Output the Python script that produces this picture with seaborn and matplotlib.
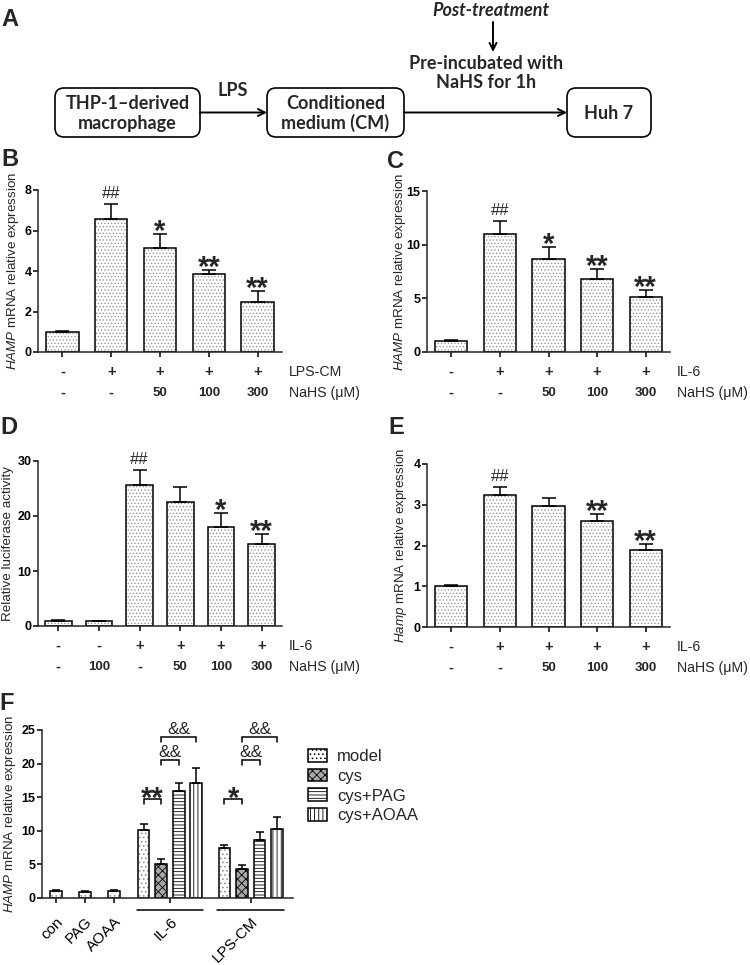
import numpy as np
import pandas as pd
import matplotlib
matplotlib.use('Agg')
import matplotlib.pyplot as plt
import matplotlib.transforms as mtransforms
from matplotlib.patches import FancyBboxPatch, Rectangle, Patch
import seaborn as sns

sns.set_style('ticks')
plt.rcParams['font.family'] = ['Liberation Sans', 'DejaVu Sans']
plt.rcParams['mathtext.fontset'] = 'custom'
plt.rcParams['mathtext.it'] = 'Liberation Sans:italic'
plt.rcParams['mathtext.rm'] = 'Liberation Sans'
plt.rcParams['hatch.linewidth'] = 0.6
plt.rcParams['axes.linewidth'] = 1.1

# ---- data ----
# B: HAMP mRNA, LPS-CM + NaHS
b_row1 = ['-', '+', '+', '+', '+']
b_row2 = ['-', '-', '50', '100', '300']
b_mean = [1.0, 6.57, 5.15, 3.85, 2.48]
b_sem = [0.04, 0.72, 0.68, 0.21, 0.53]
b_marks = ['', '##', '*', '**', '**']

# C: HAMP mRNA, IL-6 + NaHS
c_row1 = ['-', '+', '+', '+', '+']
c_row2 = ['-', '-', '50', '100', '300']
c_mean = [1.0, 11.0, 8.67, 6.77, 5.15]
c_sem = [0.15, 1.2, 1.12, 0.93, 0.6]
c_marks = ['', '##', '*', '**', '**']

# D: luciferase activity
d_row1 = ['-', '-', '+', '+', '+', '+']
d_row2 = ['-', '100', '-', '50', '100', '300']
d_mean = [1.0, 0.85, 25.6, 22.6, 18.0, 15.0]
d_sem = [0.1, 0.05, 2.8, 2.6, 2.5, 1.7]
d_marks = ['', '', '##', '', '*', '**']

# E: Hamp mRNA (mouse)
e_row1 = ['-', '+', '+', '+', '+']
e_row2 = ['-', '-', '50', '100', '300']
e_mean = [1.0, 3.24, 2.98, 2.6, 1.9]
e_sem = [0.02, 0.19, 0.18, 0.17, 0.13]
e_marks = ['', '##', '', '**', '**']

# F: grouped
f_single = ['con', 'PAG', 'AOAA']
f_single_mean = [1.04, 0.95, 1.1]
f_single_sem = [0.2, 0.1, 0.08]
f_groups = ['IL-6', 'LPS-CM']
f_series = ['model', 'cys', 'cys+PAG', 'cys+AOAA']
f_group_mean = [[10.1, 5.03, 15.9, 17.07], [7.37, 4.28, 8.7, 10.3]]
f_group_sem = [[0.9, 0.77, 1.2, 2.33], [0.5, 0.7, 1.06, 1.7]]
f_hatches = ['....', 'xxxx', '-----', '||||']
f_faces = ['white', '#a8a8a8', 'white', 'white']
# comparisons inside each group: (series i, series j, bracket height, label)
f_brackets = [[(0, 1, 14.7, '**'), (1, 2, 20.5, '&&'), (1, 3, 23.9, '&&')],
              [(0, 1, 14.7, '*'), (1, 2, 20.5, '&&'), (1, 3, 23.9, '&&')]]

W, H = 750, 965
fig = plt.figure(figsize=(7.5, 9.65), dpi=100)


def px_axes(left, top, right, bottom):
    return fig.add_axes([left / W, 1 - bottom / H, (right - left) / W, (bottom - top) / H])


def style_axis(ax):
    sns.despine(ax=ax)
    ax.tick_params(axis='both', direction='out', length=3.6, width=1.1,
                   labelsize=9, pad=1, colors='black')
    for lbl in ax.get_yticklabels():
        lbl.set_fontweight('bold')


def offset(ax, dy_pt):
    return mtransforms.offset_copy(ax.transData, fig=fig, x=0, y=dy_pt, units='points')


def draw_marks(ax, tops, marks):
    for i, (top, mk) in enumerate(zip(tops, marks)):
        if not mk:
            continue
        if mk.startswith('#'):
            ax.text(i, top, mk, ha='center', va='baseline', fontsize=12,
                    transform=offset(ax, 4.3), clip_on=False)
        else:
            ax.text(i, top, mk, ha='center', va='baseline', fontsize=21,
                    fontweight='bold', transform=offset(ax, -4.3), clip_on=False)


def bar_panel(ax, mean, sem, marks, ymax, ystep, row1, row2, name1, name2):
    n = len(mean)
    df = pd.DataFrame({'group': [str(i) for i in range(n)], 'value': mean})
    sns.barplot(data=df, x='group', y='value', color='white', saturation=1,
                width=0.66, errorbar=None, ax=ax)
    for bar in list(ax.patches):
        bar.set_hatch('.....')
        bar.set_edgecolor('#9a9a9a')
        bar.set_linewidth(0)
        ax.add_patch(Rectangle(bar.get_xy(), bar.get_width(), bar.get_height(),
                               fill=False, edgecolor='black', linewidth=1.1, zorder=2.5))
    ax.errorbar(range(n), mean, yerr=[np.zeros(n), sem], fmt='none', ecolor='black',
                elinewidth=1.1, capsize=5, capthick=1.1, zorder=3)
    draw_marks(ax, np.array(mean) + np.array(sem), marks)
    ax.set_xlim(-0.5, n - 0.5)
    ax.set_ylim(0, ymax)
    ax.set_yticks(np.arange(0, ymax + 0.01, ystep))
    ax.set_xticks(range(n))
    ax.set_xticklabels([])
    ax.set_xlabel('')
    ax.set_ylabel('')
    style_axis(ax)
    # treatment rows under the axis
    for k, (row, name) in enumerate([(row1, name1), (row2, name2)]):
        dy = -(20 + 21 * k) * 0.72
        tr = mtransforms.offset_copy(mtransforms.blended_transform_factory(ax.transData, ax.transAxes),
                                     fig=fig, x=0, y=dy, units='points')
        for i, lab in enumerate(row):
            ax.text(i, 0, lab, transform=tr, ha='center', va='center',
                    fontsize=10.5 if lab in '+-' else 9.5, fontweight='bold')
        tr2 = mtransforms.offset_copy(ax.transAxes, fig=fig, x=5, y=dy, units='points')
        ax.text(1, 0, name, transform=tr2, ha='left', va='center', fontsize=10.2)
    return ax


def ylabel_at(x, ax, text):
    bb = ax.get_position()
    fig.text(x / W, bb.y0 + bb.height / 2, text, rotation=90, ha='center', va='center',
             fontsize=9.6)


# ---- panel A: flow chart ----
ax_a = fig.add_axes([0, 0, 1, 1])
ax_a.set_xlim(0, W)
ax_a.set_ylim(H, 0)
ax_a.axis('off')

flow_boxes = ['THP-1\u2013derived\nmacrophage', 'Conditioned\nmedium (CM)', 'Huh 7']
box_x = [(55, 200), (267, 404), (567, 651)]
box_top, box_bot = 88, 137
box_mid = (box_top + box_bot) / 2
for label, (x0, x1) in zip(flow_boxes, box_x):
    ax_a.add_patch(FancyBboxPatch((x0, box_top), x1 - x0, box_bot - box_top,
                                  boxstyle='round,pad=0,rounding_size=9',
                                  fc='white', ec='black', lw=1.2))
    ax_a.text((x0 + x1) / 2, box_mid + 1, label, ha='center', va='center',
              fontsize=13, fontweight='bold', family='Lato', linespacing=1.15)

arrow_kw = dict(arrowstyle='->,head_length=0.5,head_width=0.25', lw=1.4,
                color='black', shrinkA=0, shrinkB=0)
for (a0, a1), (b0, b1) in zip(box_x[:-1], box_x[1:]):
    ax_a.annotate('', xy=(b0, box_mid), xytext=(a1, box_mid), arrowprops=arrow_kw)
ax_a.annotate('', xy=(493, 52), xytext=(493, 22), arrowprops=arrow_kw)
ax_a.text(233, 91, 'LPS', ha='center', va='center', fontsize=13,
          fontweight='bold', family='Lato')
ax_a.text(486, 73, 'Pre-incubated with\nNaHS for 1h', ha='center', va='center',
          fontsize=13, fontweight='bold', family='Lato', linespacing=1.15)
ax_a.text(491, 10, 'Post-treatment', ha='center', va='center', fontsize=13,
          fontweight='bold', style='italic', family='Lato')

# ---- panels B-E ----
ax_b = px_axes(38, 190, 282, 352)
bar_panel(ax_b, b_mean, b_sem, b_marks, 8, 2, b_row1, b_row2, 'LPS-CM', 'NaHS (\u03bcM)')
ylabel_at(13, ax_b, r'$\it{HAMP}$ mRNA relative expression')

ax_c = px_axes(427, 191, 670, 352)
bar_panel(ax_c, c_mean, c_sem, c_marks, 15, 5, c_row1, c_row2, 'IL-6', 'NaHS (\u03bcM)')
ylabel_at(400, ax_c, r'$\it{HAMP}$ mRNA relative expression')

ax_d = px_axes(38, 461, 282, 626)
bar_panel(ax_d, d_mean, d_sem, d_marks, 30, 10, d_row1, d_row2, 'IL-6', 'NaHS (\u03bcM)')
ylabel_at(8, ax_d, 'Relative luciferase activity')

ax_e = px_axes(427, 464, 670, 627)
bar_panel(ax_e, e_mean, e_sem, e_marks, 4, 1, e_row1, e_row2, 'IL-6', 'NaHS (\u03bcM)')
ylabel_at(401, ax_e, r'$\it{Hamp}$ mRNA relative expression')

# ---- panel F ----
ax_f = px_axes(41.7, 730, 293, 898)
single_x = np.arange(len(f_single))
group_centers = np.array([3.9, 6.66])
series_offsets = np.array([-0.9, -0.3, 0.3, 0.9])
bw = 0.4


def hatched_bars(ax, x, h, hatch, face, dot_grey):
    bars = ax.bar(x, h, width=bw, color=face, linewidth=0,
                  edgecolor='#8a8a8a' if dot_grey else 'black', hatch=hatch, zorder=2)
    ax.bar(x, h, width=bw, fill=False, edgecolor='black', linewidth=1.1, zorder=2.5)
    return bars


hatched_bars(ax_f, single_x, f_single_mean, f_hatches[0], f_faces[0], True)
ax_f.errorbar(single_x, f_single_mean, yerr=[np.zeros(3), f_single_sem], fmt='none',
              ecolor='black', elinewidth=1.1, capsize=3.2, capthick=1.1, zorder=3)
for s, name in enumerate(f_series):
    xs = group_centers + series_offsets[s]
    ms = [g[s] for g in f_group_mean]
    es = [g[s] for g in f_group_sem]
    hatched_bars(ax_f, xs, ms, f_hatches[s], f_faces[s], s == 0)
    ax_f.errorbar(xs, ms, yerr=[np.zeros(len(xs)), es], fmt='none', ecolor='black',
                  elinewidth=1.1, capsize=3.2, capthick=1.1, zorder=3)

for g, c in enumerate(group_centers):
    for i, j, yb, lab in f_brackets[g]:
        x0, x1 = c + series_offsets[i], c + series_offsets[j]
        leg = 0.75
        ax_f.plot([x0, x0, x1, x1], [yb - leg, yb, yb, yb - leg], color='black',
                  lw=1.1, clip_on=False, solid_joinstyle='miter')
        if lab.startswith('&'):
            ax_f.text((x0 + x1) / 2, yb, lab, ha='center', va='baseline', fontsize=12.5,
                      transform=offset(ax_f, 2.2), clip_on=False)
        else:
            ax_f.text((x0 + x1) / 2, yb, lab, ha='center', va='baseline', fontsize=21,
                      fontweight='bold', transform=offset(ax_f, -5.8), clip_on=False)

ax_f.set_xlim(-0.48, 8.1)
ax_f.set_ylim(0, 25)
ax_f.set_yticks(range(0, 26, 5))
ax_f.set_xticks(list(single_x) + list(group_centers))
ax_f.set_xticklabels(f_single + f_groups, rotation=45, ha='right', va='top',
                     rotation_mode='anchor')
style_axis(ax_f)
ax_f.tick_params(axis='x', pad=8.5, labelsize=11)
blend = mtransforms.blended_transform_factory(ax_f.transData, ax_f.transAxes)
for c in group_centers:
    ax_f.plot([c - 1.14, c + 1.14], [-0.069, -0.069], color='black', lw=1.1,
              transform=blend, clip_on=False)
ylabel_at(10, ax_f, r'$\it{HAMP}$ mRNA relative expression')

handles = [Patch(facecolor=fc, edgecolor='black', hatch=h, linewidth=1.1)
           for h, fc in zip(f_hatches, f_faces)]
fig.legend(handles, f_series, loc='upper left', bbox_to_anchor=(308 / W, 1 - 749 / H),
           frameon=False, fontsize=12, borderpad=0, handlelength=1.15,
           handleheight=0.78, handletextpad=0.6, labelspacing=0.28, borderaxespad=0)

# ---- panel letters ----
for letter, (x, y) in zip('ABCDEF', [(10, 20), (10, 160), (396, 161), (9, 428),
                                     (396, 428), (7, 704)]):
    fig.text(x / W, 1 - y / H, letter, ha='center', va='center', fontsize=17,
             fontweight='bold')

fig.savefig('out.png', dpi=100)
